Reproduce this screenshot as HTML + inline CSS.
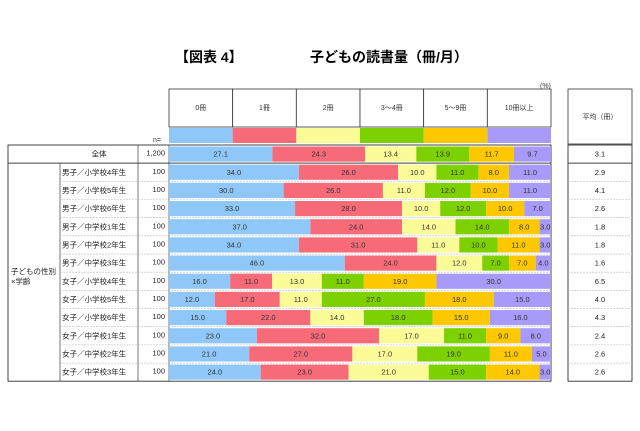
<!DOCTYPE html>
<html><head><meta charset="utf-8">
<style>
body{margin:0;background:#fff;width:640px;height:426px;overflow:hidden;font-family:"Liberation Sans","Noto Sans CJK JP",sans-serif;}
svg text{font-family:"Liberation Sans","Noto Sans CJK JP",sans-serif;}
</style></head><body>
<svg id="chart" width="640" height="426" viewBox="0 0 640 426" xmlns="http://www.w3.org/2000/svg">
<text x="175" y="62" font-size="14" font-weight="bold">【図表 4】</text>
<text x="310" y="62" font-size="14" font-weight="bold">子どもの読書量（冊/月）</text>
<text x="540" y="88" font-size="7" fill="#333">(%)</text>
<text x="153" y="142" font-size="7" fill="#333">n=</text>
<g id="grid"></g><g id="bars"></g><g id="labels"></g>
</svg>
<script>
const categories=["0冊","1冊","2冊","3～4冊","5～9冊","10冊以上"];
const rowLabels=["全体","男子／小学校4年生","男子／小学校5年生","男子／小学校6年生","男子／中学校1年生","男子／中学校2年生","男子／中学校3年生","女子／小学校4年生","女子／小学校5年生","女子／小学校6年生","女子／中学校1年生","女子／中学校2年生","女子／中学校3年生"];
const nValues=["1,200","100","100","100","100","100","100","100","100","100","100","100","100"];
const s0=[27.1,34,30,33,37,34,46,16,12,15,23,21,24];
const s1=[24.3,26,26,28,24,31,24,11,17,22,32,27,23];
const s2=[13.4,10,11,10,14,11,12,13,11,14,17,17,21];
const s3=[13.9,11,12,12,14,10,7,11,27,18,11,19,15];
const s4=[11.7,8,10,10,8,11,7,19,18,15,9,11,14];
const s5=[9.7,11,11,7,3,3,4,30,15,16,8,5,3];
const averages=["3.1","2.9","4.1","2.6","1.8","1.8","1.6","6.5","4.0","4.3","2.4","2.6","2.6"];
const series=[s0,s1,s2,s3,s4,s5];
const colors=["#8fc8f8","#f76a78","#fbfb98","#7dd100","#fdc800","#a89af8"];
const NS="http://www.w3.org/2000/svg";
const X0=169,X1=551,Y0=145,RH=18.17;
const xS=v=>v/100*(X1-X0);
const yS=i=>Y0+i*RH;
function mk(tag,attrs,parent,txt){const e=document.createElementNS(NS,tag);for(const k in attrs)e.setAttribute(k,attrs[k]);if(txt!==undefined)e.textContent=txt;parent.appendChild(e);return e;}
const grid=document.getElementById('grid'),bars=document.getElementById('bars'),labels=document.getElementById('labels');
// header boxes
const cw=(X1-X0)/6;
categories.forEach((c,i)=>{
 const r=mk('rect',{x:X0+i*cw,y:89,width:cw,height:38,fill:'#fff',stroke:'#333','stroke-width':0.8},grid);
 
 
 const t=mk('text',{x:X0+i*cw+cw/2,y:110,'font-size':7,'text-anchor':'middle',fill:'#333'},labels,c);
 
 
 const sw=mk('rect',{x:X0+i*cw,y:128,width:cw,height:15,fill:colors[i]},bars);
 
 
});
// avg header
const ah=mk('rect',{x:568,y:89,width:64,height:55,fill:'#fff',stroke:'#333','stroke-width':0.8},grid);


const aht=mk('text',{x:600,y:119,'font-size':7,'text-anchor':'middle',fill:'#333'},labels,'平均（冊）');


// table frame
const H=rowLabels.length*RH;
const fr=mk('rect',{x:8,y:Y0,width:X1-8,height:H,fill:'none',stroke:'#444','stroke-width':1},grid);


const af=mk('rect',{x:568,y:Y0,width:64,height:H,fill:'none',stroke:'#444','stroke-width':1},grid);


mk('line',{x1:138,y1:Y0,x2:138,y2:Y0+H,stroke:'#555','stroke-width':0.8},grid);
mk('line',{x1:X0,y1:Y0,x2:X0,y2:Y0+H,stroke:'#555','stroke-width':0.8},grid);
mk('line',{x1:60,y1:yS(1),x2:60,y2:Y0+H,stroke:'#555','stroke-width':0.8},grid);
mk('line',{x1:8,y1:yS(1),x2:X1,y2:yS(1),stroke:'#444','stroke-width':1},grid);
mk('line',{x1:568,y1:yS(1),x2:632,y2:yS(1),stroke:'#444','stroke-width':1},grid);
for(let i=2;i<rowLabels.length;i++){
 mk('line',{x1:60,y1:yS(i),x2:X1,y2:yS(i),stroke:'#bbb','stroke-width':0.6,'stroke-dasharray':'2,1'},grid);
 mk('line',{x1:568,y1:yS(i),x2:632,y2:yS(i),stroke:'#bbb','stroke-width':0.6,'stroke-dasharray':'2,1'},grid);
}
const gl=mk('text',{x:11,y:yS(7)+2,'font-size':7.5,fill:'#222'},labels,'子どもの性別');


mk('text',{x:11,y:yS(7)+12,'font-size':7.5,fill:'#222'},labels,'×学齢');
rowLabels.forEach((lab,i)=>{
 const y=yS(i),cy=y+RH/2+2.5;
 const t=mk('text',{x:i===0?99:62,y:cy,'font-size':7.5,fill:'#222','text-anchor':i===0?'middle':'start'},labels,lab);
 
 
 const n=mk('text',{x:165,y:cy-1,'font-size':7.5,fill:'#222','text-anchor':'end'},labels,nValues[i]);
 
 
 const a=mk('text',{x:600,y:cy,'font-size':7.5,fill:'#222','text-anchor':'middle'},labels,averages[i]);
 
 
 let tot=0;series.forEach(s=>tot+=s[i]);
 let acc=0;
 series.forEach((s,k)=>{
  const v=s[i]*100/tot;
  const x=X0+xS(acc),w=xS(v);
  const r=mk('rect',{x:x,y:y+1.5,width:w,height:RH-3,fill:colors[k]},bars);
  
  
  const tt=mk('text',{x:x+w/2,y:cy,'font-size':7.5,fill:'#333','text-anchor':'middle'},labels,s[i].toFixed(1));
  
  
  acc+=v;
 });
});
</script>
</body></html>
